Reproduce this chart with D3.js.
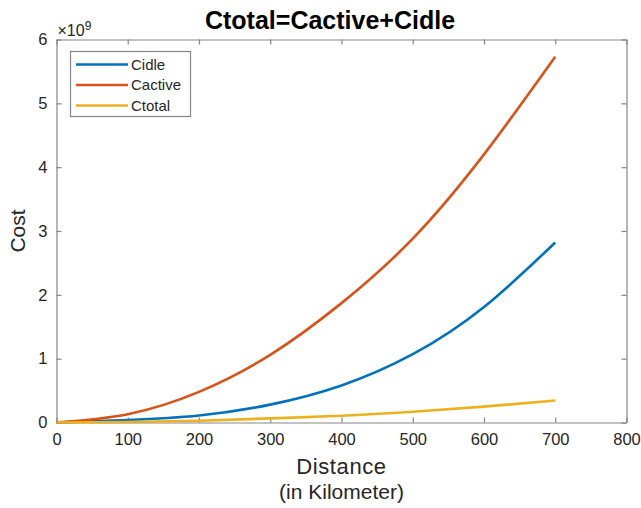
<!DOCTYPE html>
<html>
<head>
<meta charset="utf-8">
<script src="https://cdn.jsdelivr.net/npm/d3@7"></script>
<style>
  body { margin: 0; background: #fff; }
  svg { display: block; font-family: "Liberation Sans", Arial, sans-serif; }
</style>
</head>
<body>
<svg id="chart" width="641" height="508"></svg>
<script>
// distance in km, costs in units of 1e9
const distance = [0, 100, 200, 300, 400, 500, 600, 700];
const cidle = [0, 0.04, 0.11, 0.28, 0.58, 1.07, 1.81, 2.82];
const cactive = [0, 0.13, 0.48, 1.06, 1.87, 2.88, 4.2, 5.73];
const ctotal = [0, 0.007, 0.028, 0.065, 0.105, 0.168, 0.248, 0.345];

const seriesNames = ['Cidle', 'Cactive', 'Ctotal'];
const seriesValues = [cidle, cactive, ctotal];
const colors = ['#0072BD', '#D95319', '#EDB120'];

const xTicks = [0, 100, 200, 300, 400, 500, 600, 700, 800];
const yTicks = [0, 1, 2, 3, 4, 5, 6];

const box = { left: 56.5, right: 626.5, top: 39.5, bottom: 422.5 };
const axisColor = '#262626';
const tickLen = 5;

const svg = d3.select('#chart');

const x = d3.scaleLinear().domain([0, 800]).range([box.left, box.right]);
const y = d3.scaleLinear().domain([0, 6]).range([box.bottom, box.top]);

// axes, MATLAB style: ticks point inward on all four sides
const gx = svg.append('g')
    .attr('transform', `translate(0,${box.bottom})`)
    .call(d3.axisBottom(x).tickValues(xTicks).tickSizeInner(-tickLen).tickSizeOuter(0).tickPadding(10).tickFormat(d3.format('d')));
const gxTop = svg.append('g')
    .attr('transform', `translate(0,${box.top})`)
    .call(d3.axisTop(x).tickValues(xTicks).tickSizeInner(-tickLen).tickSizeOuter(0).tickFormat(''));
const gy = svg.append('g')
    .attr('transform', `translate(${box.left},0)`)
    .call(d3.axisLeft(y).tickValues(yTicks).tickSizeInner(-tickLen).tickSizeOuter(0).tickPadding(9).tickFormat(d3.format('d')));
const gyRight = svg.append('g')
    .attr('transform', `translate(${box.right},0)`)
    .call(d3.axisRight(y).tickValues(yTicks).tickSizeInner(-tickLen).tickSizeOuter(0).tickFormat(''));

[gx, gxTop, gy, gyRight].forEach(g => {
    g.select('.domain').attr('stroke', '#858585').attr('stroke-width', 1.2);
    g.selectAll('.tick line').attr('stroke', '#858585').attr('stroke-width', 1.2);
    g.selectAll('.tick text')
        .attr('fill', axisColor)
        .style('font-size', '16.5px')
        .style('font-family', '"Liberation Sans", Arial, sans-serif');
});
gx.selectAll('.tick text').attr('dy', '0.75em');

// lines
const line = d3.line()
    .x((d, i) => x(distance[i]))
    .y(d => y(d))
    .curve(d3.curveNatural);

svg.append('g')
    .selectAll('path')
    .data(seriesValues)
    .join('path')
    .attr('fill', 'none')
    .attr('stroke', (d, i) => colors[i])
    .attr('stroke-width', 2.6)
    .attr('d', line);

// exponent label
const expo = svg.append('text')
    .attr('x', box.left + 1)
    .attr('y', 36)
    .attr('fill', axisColor)
    .style('font-size', '16px');
expo.append('tspan').text('\u00d710');
expo.append('tspan').attr('dy', -6).style('font-size', '12px').text('9');

// title and labels
svg.append('text')
    .attr('x', 330)
    .attr('y', 29)
    .attr('text-anchor', 'middle')
    .attr('fill', '#000')
    .style('font-size', '25px')
    .style('font-weight', 'bold')
    .text('Ctotal=Cactive+Cidle');

svg.append('text')
    .attr('x', (box.left + box.right) / 2)
    .attr('y', 474)
    .attr('text-anchor', 'middle')
    .attr('fill', axisColor)
    .style('font-size', '22px')
    .style('letter-spacing', '0.6px')
    .text('Distance');

svg.append('text')
    .attr('x', (box.left + box.right) / 2)
    .attr('y', 499)
    .attr('text-anchor', 'middle')
    .attr('fill', axisColor)
    .style('font-size', '21px')
    .text('(in Kilometer)');

svg.append('text')
    .attr('transform', `translate(25,${(box.top + box.bottom) / 2}) rotate(-90)`)
    .attr('text-anchor', 'middle')
    .attr('fill', axisColor)
    .style('font-size', '21px')
    .text('Cost');

// legend
const legend = svg.append('g');
legend.append('rect')
    .attr('x', 70.5)
    .attr('y', 51.5)
    .attr('width', 120)
    .attr('height', 65)
    .attr('fill', '#fff')
    .attr('stroke', '#858585')
    .attr('stroke-width', 1.2);

const item = legend.selectAll('g.item')
    .data(seriesNames)
    .join('g')
    .attr('class', 'item')
    .attr('transform', (d, i) => `translate(0,${64.5 + i * 20.5})`);

item.append('line')
    .attr('x1', 76)
    .attr('x2', 128)
    .attr('stroke', (d, i) => colors[i])
    .attr('stroke-width', 2.6);

item.append('text')
    .attr('x', 131)
    .attr('dy', '0.35em')
    .attr('fill', axisColor)
    .style('font-size', '15px')
    .text(d => d);
</script>
</body>
</html>
